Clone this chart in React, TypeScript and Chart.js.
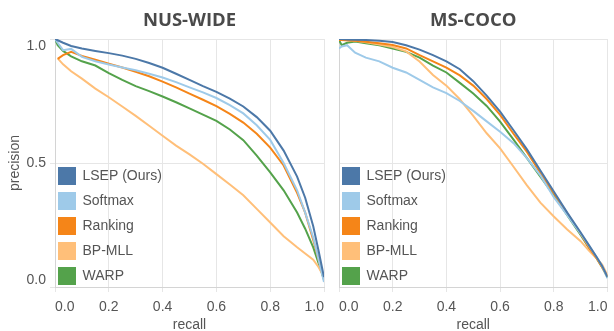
import React, { useEffect, useRef } from 'react';
import { Chart, registerables } from 'chart.js';

Chart.register(...registerables);

// ---- data ----
const seriesNames = ['LSEP (Ours)', 'Softmax', 'Ranking', 'BP-MLL', 'WARP'];
const seriesColors = ['#4c78a8', '#9ecae9', '#f58518', '#ffbf79', '#54a24b'];

const recall = [0, 0.01, 0.03, 0.06, 0.1, 0.15, 0.2, 0.25, 0.3, 0.35, 0.4, 0.45, 0.5, 0.55, 0.6, 0.65, 0.7, 0.75, 0.8, 0.85, 0.9, 0.93, 0.96, 0.98, 1.0];

const nusLsep = [1.0, 0.995, 0.985, 0.972, 0.962, 0.952, 0.943, 0.933, 0.92, 0.903, 0.884, 0.86, 0.835, 0.81, 0.787, 0.76, 0.728, 0.685, 0.63, 0.55, 0.445, 0.36, 0.245, 0.145, 0.04];
const nusSoftmax = [1.0, 0.985, 0.955, 0.96, 0.928, 0.91, 0.897, 0.885, 0.874, 0.86, 0.845, 0.826, 0.805, 0.785, 0.762, 0.733, 0.7, 0.652, 0.593, 0.5, 0.39, 0.3, 0.2, 0.11, 0.02];
const nusRanking = [null, 0.92, 0.935, 0.948, 0.932, 0.916, 0.9, 0.885, 0.868, 0.85, 0.828, 0.805, 0.78, 0.755, 0.729, 0.698, 0.663, 0.618, 0.562, 0.49, 0.38, 0.3, 0.19, 0.11, 0.03];
const nusBpmll = [null, 0.922, 0.898, 0.87, 0.84, 0.8, 0.765, 0.728, 0.69, 0.65, 0.61, 0.57, 0.535, 0.497, 0.455, 0.413, 0.37, 0.315, 0.26, 0.205, 0.16, 0.135, 0.11, 0.08, 0.04];
const nusWarp = [1.0, 0.975, 0.952, 0.93, 0.91, 0.893, 0.862, 0.835, 0.81, 0.79, 0.768, 0.745, 0.72, 0.695, 0.67, 0.635, 0.592, 0.53, 0.462, 0.39, 0.3, 0.235, 0.16, 0.095, 0.03];

const cocoLsep = [1.0, 1.0, 0.998, 0.997, 0.996, 0.993, 0.988, 0.975, 0.957, 0.935, 0.91, 0.878, 0.83, 0.772, 0.707, 0.632, 0.555, 0.47, 0.385, 0.3, 0.22, 0.17, 0.12, 0.085, 0.04];
const cocoSoftmax = [0.962, 0.97, 0.975, 0.945, 0.925, 0.91, 0.884, 0.865, 0.835, 0.805, 0.782, 0.75, 0.71, 0.668, 0.626, 0.58, 0.52, 0.45, 0.362, 0.29, 0.215, 0.168, 0.12, 0.085, 0.035];
const cocoRanking = [0.996, 0.996, 0.995, 0.993, 0.989, 0.983, 0.976, 0.962, 0.935, 0.91, 0.885, 0.853, 0.812, 0.758, 0.694, 0.618, 0.545, 0.46, 0.378, 0.297, 0.215, 0.16, 0.115, 0.08, 0.042];
const cocoBpmll = [0.996, 0.996, 0.995, 0.993, 0.987, 0.978, 0.968, 0.95, 0.909, 0.855, 0.812, 0.757, 0.69, 0.62, 0.559, 0.485, 0.41, 0.34, 0.284, 0.232, 0.185, 0.148, 0.115, 0.09, 0.048];
const cocoWarp = [0.996, 0.975, 0.985, 0.99, 0.983, 0.975, 0.962, 0.948, 0.925, 0.893, 0.865, 0.823, 0.78, 0.73, 0.667, 0.594, 0.52, 0.445, 0.37, 0.29, 0.21, 0.16, 0.115, 0.08, 0.038];

const xTickLabels = ['0.0', '0.2', '0.4', '0.6', '0.8', '1.0'];
const yTickLabels = ['0.0', '0.5', '1.0'];

const nusSeries = [nusLsep, nusSoftmax, nusRanking, nusBpmll, nusWarp];
const cocoSeries = [cocoLsep, cocoSoftmax, cocoRanking, cocoBpmll, cocoWarp];

// ---- styling ----
const FONT = '"Liberation Sans", Arial, sans-serif';
const TEXT = '#555555';
const TITLE = '#4a4a4a';
const GRID = '#e6e6e6';
const AXIS = '#d4d4d4';
const H = 331;

const insideLegend = {
  id: 'insideLegend',
  afterDatasetsDraw(chart: any) {
    const { ctx, chartArea } = chart;
    const ds = chart.data.datasets;
    const n = ds.length;
    ctx.save();
    ctx.font = `14px ${FONT}`;
    ctx.textBaseline = 'middle';
    ctx.textAlign = 'left';
    ds.forEach((d: any, i: number) => {
      const top = chartArea.bottom - 2 - 18 - 25 * (n - 1 - i);
      const left = chartArea.left + 3;
      ctx.fillStyle = d.borderColor;
      ctx.fillRect(left, top, 18, 18);
      ctx.fillStyle = TEXT;
      ctx.fillText(d.label, left + 24.5, top + 9.5);
    });
    ctx.restore();
  },
};

function makeConfig(title: string, series: (number | null)[][], showY: boolean, yWidth: number, padRight: number): any {
  return {
    type: 'line',
    data: {
      datasets: series.map((vals, i) => ({
        label: seriesNames[i],
        data: recall.map((r, j) => ({ x: r, y: vals[j] })),
        borderColor: seriesColors[i],
        backgroundColor: seriesColors[i],
        borderWidth: 2,
        pointRadius: 0,
        tension: 0,
        fill: false,
        spanGaps: false,
      })),
    },
    options: {
      responsive: false,
      animation: false,
      devicePixelRatio: 1,
      layout: { padding: { left: 0, right: padRight, top: 0, bottom: 0 } },
      plugins: {
        legend: { display: false },
        tooltip: { enabled: false },
        title: {
          display: true,
          text: title,
          fullSize: false,
          color: TITLE,
          font: { family: '"Open Sans", ' + FONT, size: 18.5, weight: 'bold', lineHeight: 1.2 },
          padding: { top: 9.2, bottom: 7.6 },
        },
      },
      scales: {
        x: {
          type: 'linear',
          min: 0,
          max: 1,
          ticks: {
            stepSize: 0.2,
            align: 'inner',
            padding: 6.5,
            maxRotation: 0,
            color: TEXT,
            font: { family: FONT, size: 14, lineHeight: 1.2 },
            callback: (_v: any, idx: number) => xTickLabels[idx],
          },
          grid: { color: GRID, tickLength: 5, drawTicks: true },
          border: { color: AXIS },
          title: {
            display: true,
            text: 'recall',
            color: TEXT,
            font: { family: FONT, size: 14, lineHeight: 0.85 },
            padding: { top: 0, bottom: 0 },
          },
          afterFit: (scale: any) => {
            scale.height = 44;
          },
        },
        y: {
          type: 'linear',
          min: 0,
          max: 1,
          ticks: {
            display: showY,
            stepSize: 0.5,
            padding: 4,
            color: TEXT,
            font: { family: FONT, size: 14, lineHeight: 1.0 },
            callback: (_v: any, idx: number, ticks: any[]) => {
              const lab = yTickLabels[idx];
              if (idx === 0) return [lab, ''];
              if (idx === ticks.length - 1) return ['', lab];
              return lab;
            },
          },
          grid: { color: GRID, tickLength: 5, drawTicks: showY },
          border: { color: AXIS },
          title: {
            display: showY,
            text: 'precision',
            color: TEXT,
            font: { family: FONT, size: 14, lineHeight: 1.2 },
            padding: { top: 6.6, bottom: 0 },
          },
          afterFit: (scale: any) => {
            scale.width = yWidth;
          },
        },
      },
    },
    plugins: [insideLegend],
  };
}

function Panel(props: { left: number; width: number; title: string; series: (number | null)[][]; showY: boolean; yWidth: number; padRight: number }) {
  const ref = useRef<HTMLCanvasElement>(null);
  useEffect(() => {
    const chart = new Chart(ref.current as HTMLCanvasElement, makeConfig(props.title, props.series, props.showY, props.yWidth, props.padRight));
    return () => chart.destroy();
  }, []);
  return (
    <canvas
      ref={ref}
      width={props.width}
      height={H}
      style={{ position: 'absolute', left: props.left, top: 0, width: props.width, height: H }}
    />
  );
}

export default function App() {
  return (
    <div style={{ position: 'absolute', left: 0, top: 0, width: 614, height: H, background: '#fff', overflow: 'hidden' }}>
      <Panel left={0} width={331} title="NUS-WIDE" series={nusSeries} showY={true} yWidth={55} padRight={7} />
      <Panel left={331} width={283} title="MS-COCO" series={cocoSeries} showY={false} yWidth={8} padRight={2.5} />
    </div>
  );
}
